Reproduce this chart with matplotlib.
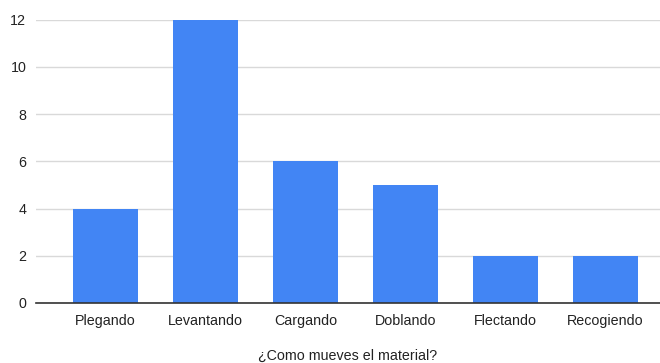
import matplotlib.pyplot as plt

categorias = ['Plegando', 'Levantando', 'Cargando', 'Doblando', 'Flectando', 'Recogiendo']
valores = [4, 12, 6, 5, 2, 2]

plt.rcParams['font.family'] = ['Liberation Sans', 'DejaVu Sans']

fig = plt.figure(figsize=(6.6, 3.63), dpi=100)
ax = fig.add_axes([36 / 660, 1 - 303 / 363, 624 / 660, (303 - 19.5) / 363])

x = range(len(categorias))
ax.bar(x, valores, width=0.656, color='#4285f4', zorder=3)

ax.set_xlim(-0.695, 5.545)
ax.set_ylim(0, 12)
ax.set_yticks(range(0, 13, 2))
ax.set_xticks(list(x))
ax.set_xticklabels(categorias)

ax.grid(axis='y', color='#d9d9d9', linewidth=1, zorder=0)
for s in ['top', 'right', 'left']:
    ax.spines[s].set_visible(False)
ax.spines['bottom'].set_color('#333333')
ax.spines['bottom'].set_linewidth(1.2)
ax.spines['bottom'].set_zorder(4)
ax.tick_params(axis='both', length=0, labelsize=10.3, colors='#222222')
ax.tick_params(axis='y', pad=7)
ax.tick_params(axis='x', pad=8)

ax.set_xlabel('¿Como mueves el material?', fontsize=10.3, color='#222222', labelpad=15)

fig.savefig('out.png', dpi=100)
